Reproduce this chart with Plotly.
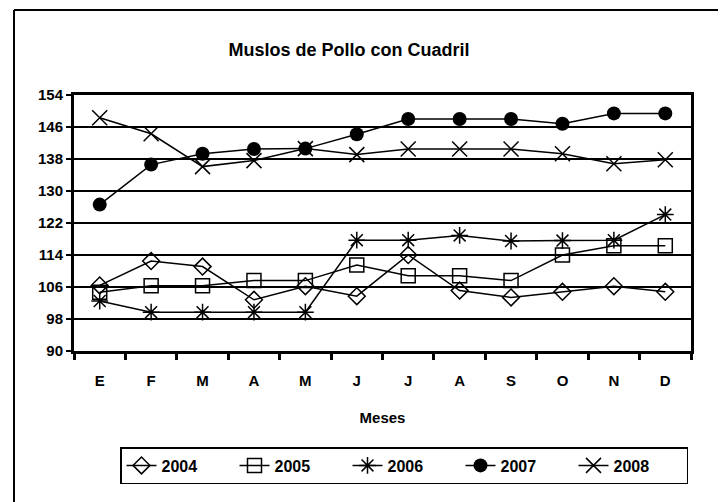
import plotly.graph_objects as go

months = ["E", "F", "M", "A", "M", "J", "J", "A", "S", "O", "N", "D"]
y2004 = [106.4, 112.5, 111.1, 102.8, 106.2, 103.7, 114.0, 105.1, 103.4, 104.8, 106.2, 104.8]
y2005 = [104.7, 106.3, 106.3, 107.6, 107.6, 111.5, 108.8, 108.8, 107.6, 114.0, 116.3, 116.3]
y2006 = [102.5, 99.7, 99.7, 99.7, 99.7, 117.7, 117.7, 118.9, 117.5, 117.6, 117.7, 124.1]
y2007 = [126.6, 136.6, 139.3, 140.5, 140.6, 144.2, 148.0, 148.0, 148.0, 146.8, 149.4, 149.4]
y2008 = [148.3, 144.3, 136.1, 137.6, 140.6, 139.1, 140.5, 140.5, 140.5, 139.3, 136.8, 137.8]
series_names = ["2004", "2005", "2006", "2007", "2008"]
yticks = [90, 98, 106, 114, 122, 130, 138, 146, 154]

x = list(range(1, 13))
FONT = "Liberation Sans, Arial, sans-serif"

specs = [
    (y2004, dict(symbol="diamond-open", size=13, line=dict(width=1.5, color="black"), color="black")),
    (y2005, dict(symbol="square-open", size=14, line=dict(width=1.5, color="black"), color="black")),
    (y2006, dict(symbol="asterisk-open", size=14, line=dict(width=1.5, color="black"), color="black")),
    (y2007, dict(symbol="circle", size=14, color="black", line=dict(width=0))),
    (y2008, dict(symbol="x-thin-open", size=15, line=dict(width=1.5, color="black"), color="black")),
]

fig = go.Figure()
for name, (vals, mk) in zip(series_names, specs):
    fig.add_trace(go.Scatter(
        x=x, y=vals, name="<b>%s</b>" % name, mode="lines+markers",
        line=dict(color="black", width=1.5), marker=mk,
    ))

# page body has an 8px margin; positions below are in figure pixels
L, T, PW, PH = 66, 87, 617, 256
fig.update_layout(
    width=726, height=502,
    margin=dict(l=L, r=726 - L - PW, t=T, b=502 - T - PH),
    paper_bgcolor="white", plot_bgcolor="white",
    font=dict(family=FONT, color="black", size=14),
    title=dict(text="<b>Muslos de Pollo con Cuadril</b>", x=341/726, xanchor="center",
               y=1 - 42/502, yanchor="middle", font=dict(size=18, family=FONT)),
    showlegend=True,
    legend=dict(orientation="h", x=(112 - L) / PW, xanchor="left",
                y=(T + PH - 439) / PH, yanchor="top",
                bordercolor="black", borderwidth=1.5,
                font=dict(size=16, family=FONT), itemwidth=30,
                entrywidth=68, entrywidthmode="pixels"),
)

fig.update_xaxes(
    range=[0.5, 12.5], tickmode="array", tickvals=x,
    ticktext=["<b>%s</b>" % m for m in months], ticks="",
    ticklabelstandoff=14,
    showgrid=False, zeroline=False,
    showline=True, linecolor="black", linewidth=3, mirror=True,
    tickfont=dict(size=15, family=FONT),
    minor=dict(tickvals=[i + 0.5 for i in range(0, 13)], ticks="outside",
               ticklen=6, tickwidth=3, tickcolor="black", showgrid=False),
    title=dict(text="<b>Meses</b>", font=dict(size=15, family=FONT), standoff=25),
)
fig.update_yaxes(
    range=[90, 154], tickmode="array", tickvals=yticks,
    ticktext=["<b>%d</b>" % v for v in yticks],
    ticks="outside", ticklen=5, tickwidth=2, tickcolor="black",
    showgrid=True, gridcolor="black", gridwidth=2, zeroline=False,
    showline=True, linecolor="black", linewidth=3, mirror=True,
    tickfont=dict(size=15, family=FONT),
)

# outer chart-area border (left and top visible)
xl = (6 - L) / PW
yt = (T + PH - 2) / PH
fig.add_shape(type="line", xref="paper", yref="paper", x0=xl, x1=xl, y0=yt, y1=-0.7,
              line=dict(color="black", width=2))
fig.add_shape(type="line", xref="paper", yref="paper", x0=xl, x1=1.1, y0=yt, y1=yt,
              line=dict(color="black", width=2))

fig.write_html("out.html")
